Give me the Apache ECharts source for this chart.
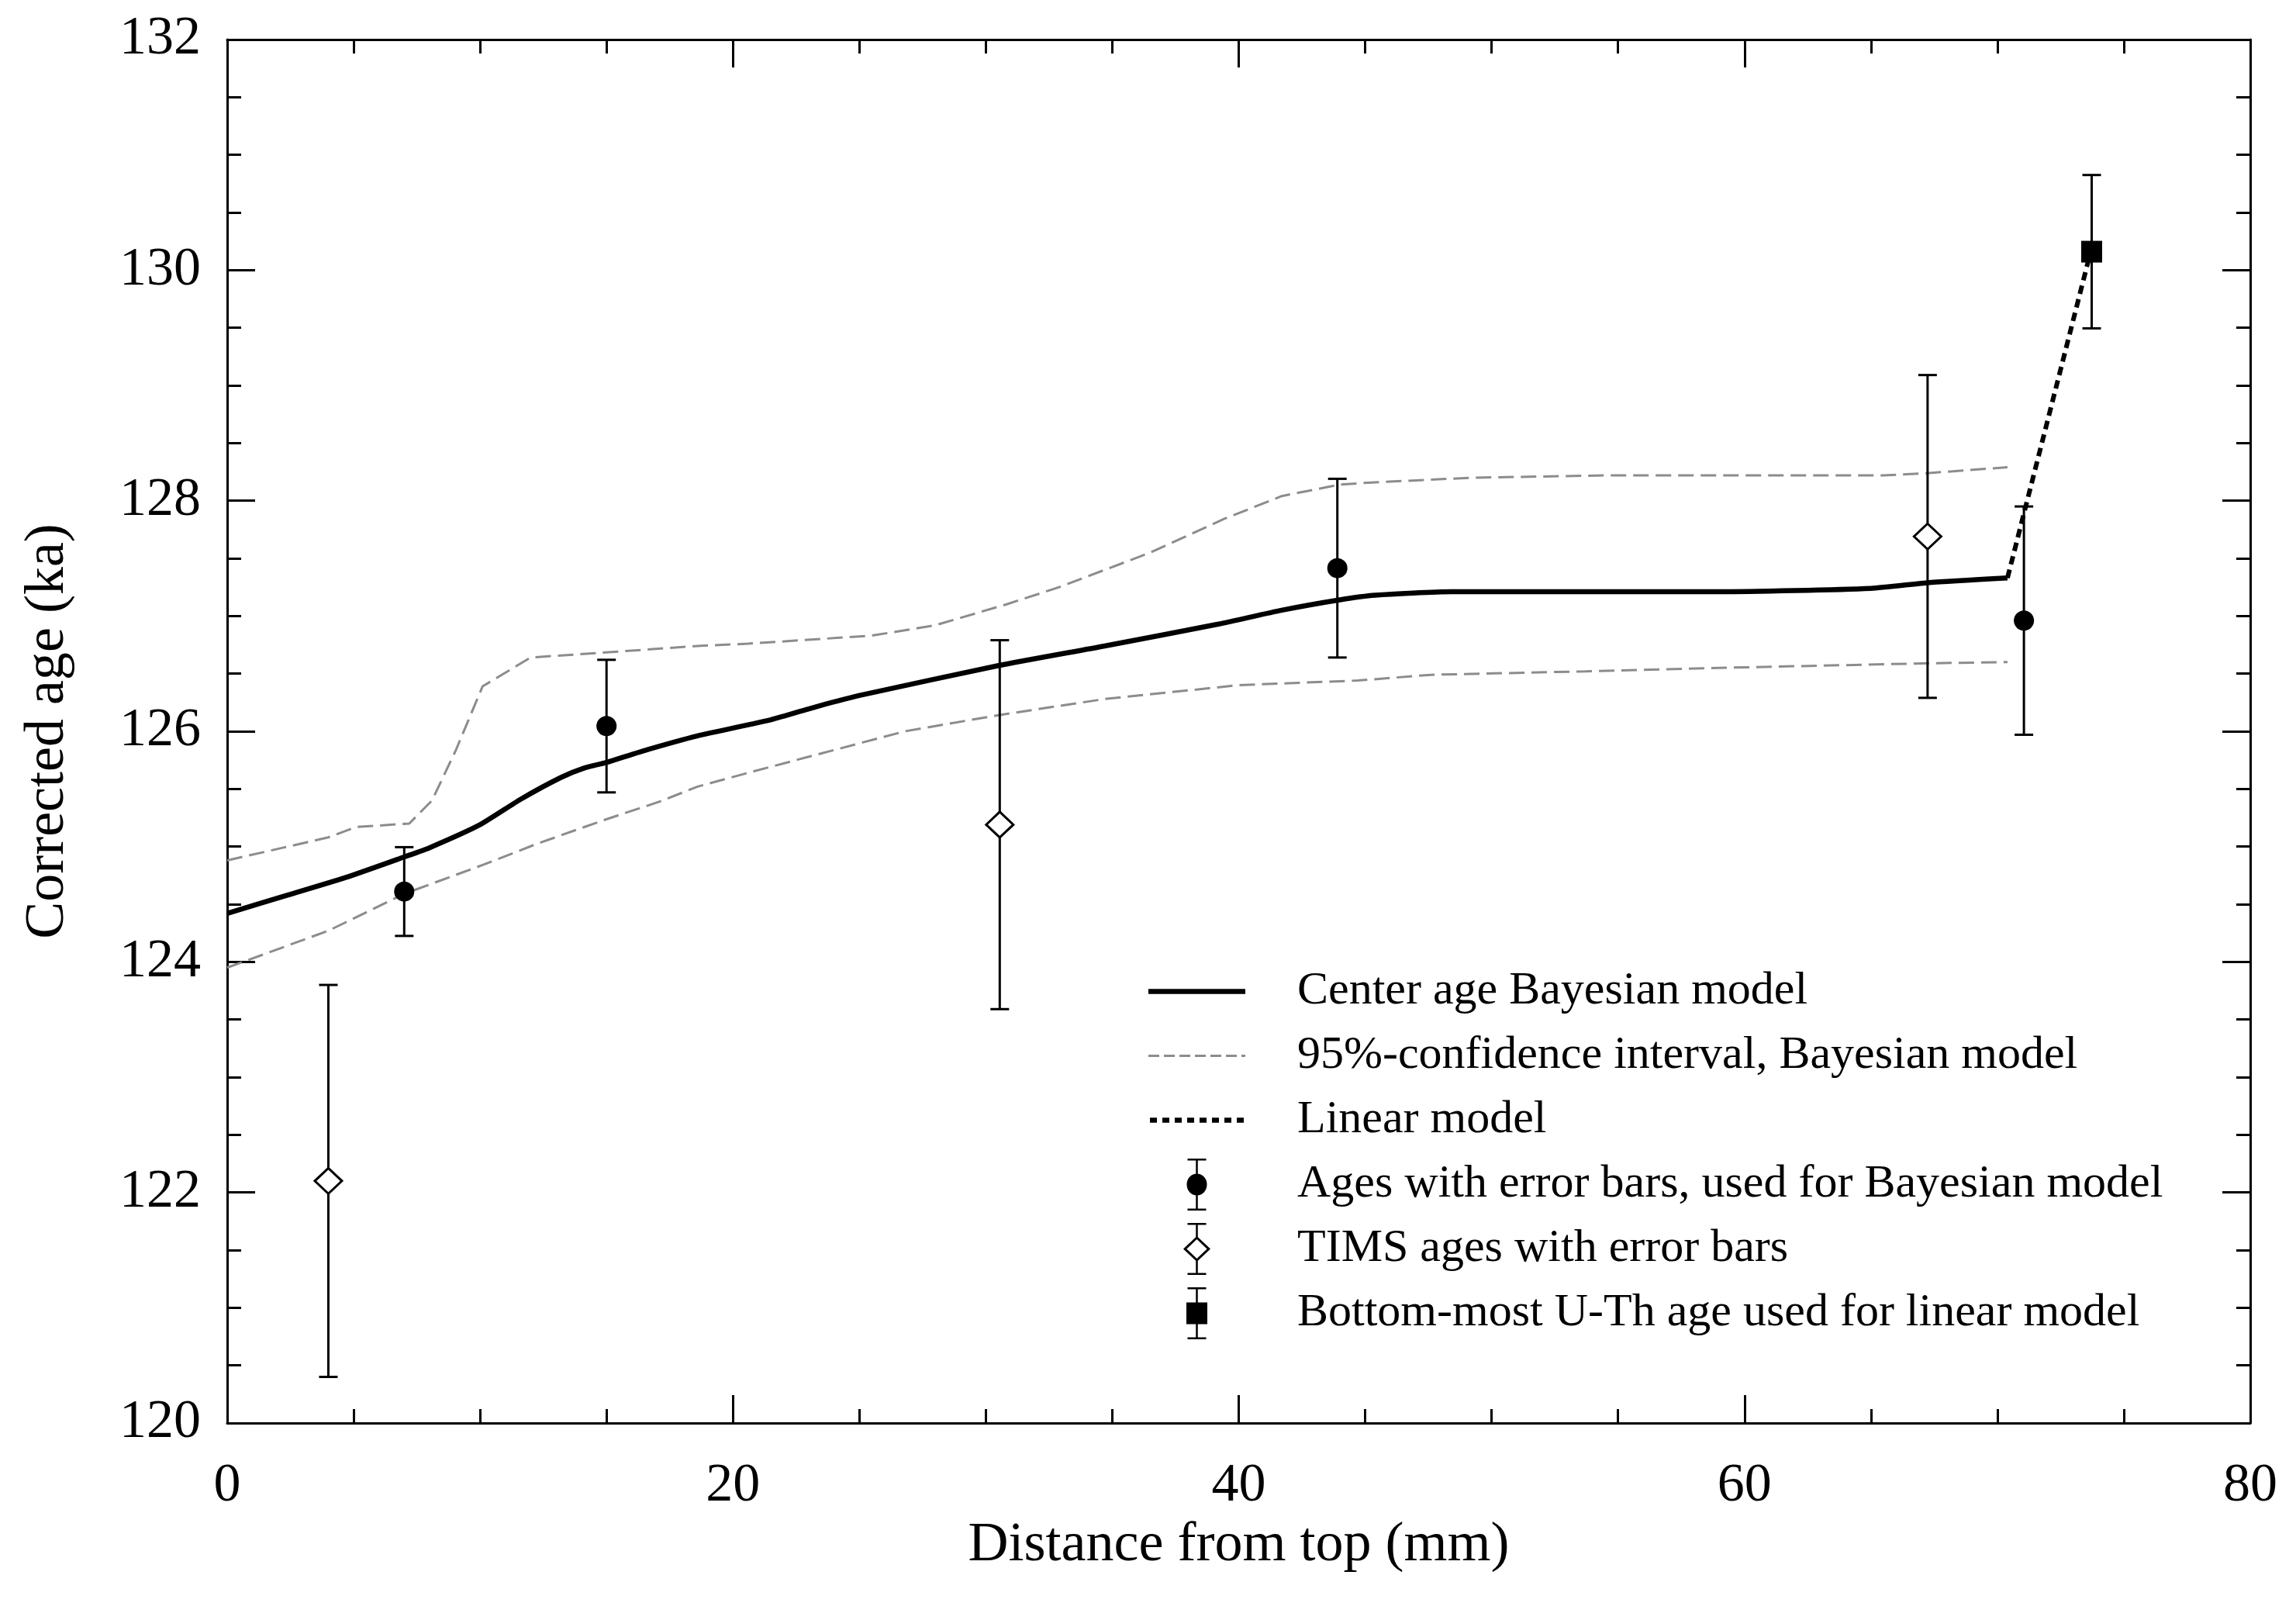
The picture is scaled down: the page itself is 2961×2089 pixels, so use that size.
<!DOCTYPE html>
<html><head><meta charset="utf-8">
<script src="https://cdn.jsdelivr.net/npm/echarts@6/dist/echarts.min.js"></script>
<style>html,body{margin:0;padding:0;background:#fff}#c{width:2961px;height:2089px}</style>
</head><body><div id="c"></div><script>
// ---- data ----
const centerX = [0, 2.4, 4.8, 7.0, 8.0, 10.0, 11.6, 13.2, 14.1, 15.0, 16.3, 18.6, 21.5, 23.4, 25.2, 30.5, 34.7, 39.2, 41.7, 44.0, 45.4, 48.4, 59.0, 65.0, 67.3, 70.4];
const centerY = [124.42, 124.58, 124.74, 124.91, 124.99, 125.19, 125.41, 125.60, 125.68, 125.73, 125.82, 125.96, 126.10, 126.22, 126.32, 126.57, 126.74, 126.93, 127.05, 127.14, 127.18, 127.21, 127.21, 127.24, 127.29, 127.33];
const upperX = [0, 2.2, 4.0, 5.1, 7.2, 8.1, 9.05, 10.1, 12.0, 14.7, 18.6, 20.6, 25.5, 28.0, 30.8, 32.9, 36.5, 39.4, 41.7, 44.0, 45.4, 49.3, 54.6, 65.5, 67.3, 70.4];
const upperY = [124.88, 124.99, 125.08, 125.17, 125.20, 125.40, 125.84, 126.39, 126.64, 126.68, 126.74, 126.76, 126.83, 126.92, 127.10, 127.25, 127.55, 127.84, 128.04, 128.14, 128.16, 128.20, 128.22, 128.22, 128.24, 128.29];
const lowerX = [0, 4.0, 7.0, 10.1, 12.2, 14.9, 17.1, 18.6, 20.6, 26.8, 30.5, 34.7, 40.0, 44.7, 47.6, 53.7, 59.0, 67.3, 70.4];
const lowerY = [123.95, 124.27, 124.59, 124.84, 125.02, 125.23, 125.39, 125.52, 125.64, 126.00, 126.14, 126.28, 126.40, 126.44, 126.49, 126.52, 126.55, 126.59, 126.60];
const linearX = [70.4, 73.7];
const linearY = [127.33, 130.17];
const bayesX = [7.0, 15.0, 43.9, 71.05];
const bayesY = [124.61, 126.045, 127.415, 126.96];
const bayesErr = [0.385, 0.575, 0.775, 0.99];
const timsX = [4.0, 30.55, 67.24];
const timsY = [122.10, 125.19, 127.69];
const timsErr = [1.70, 1.60, 1.40];
const bottomX = [73.73];
const bottomY = [130.16];
const bottomErr = [0.665];
const xTicks = {min: 0, max: 80, major: 20, minor: 5};
const yTicks = {min: 120, max: 132, major: 2, minor: 0.5};
const names = ['Center age Bayesian model', '95%-confidence interval, Bayesian model', 'Linear model',
  'Ages with error bars, used for Bayesian model', 'TIMS ages with error bars', 'Bottom-most U-Th age used for linear model'];

// ---- helpers ----
const zip = (xs, ys) => xs.map((x, i) => [x, ys[i]]);
const errData = (xs, ys, es) => xs.map((x, i) => [x, ys[i], ys[i] - es[i], ys[i] + es[i]]);
const FONT = "'Liberation Serif', 'Times New Roman', serif";

function errorBar(kind) {
  return function (params, api) {
    const x = api.value(0), y = api.value(1), lo = api.value(2), hi = api.value(3);
    const p = api.coord([x, y]), pHi = api.coord([x, hi]), pLo = api.coord([x, lo]);
    const cap = 12, ls = {stroke: '#000', lineWidth: 3};
    const ch = [
      {type: 'line', shape: {x1: p[0], y1: pHi[1], x2: p[0], y2: pLo[1]}, style: ls},
      {type: 'line', shape: {x1: p[0] - cap, y1: pHi[1], x2: p[0] + cap, y2: pHi[1]}, style: ls},
      {type: 'line', shape: {x1: p[0] - cap, y1: pLo[1], x2: p[0] + cap, y2: pLo[1]}, style: ls}
    ];
    if (kind === 'circle') {
      ch.push({type: 'circle', shape: {cx: p[0], cy: p[1], r: 13}, style: {fill: '#000'}});
    } else if (kind === 'diamond') {
      ch.push({type: 'polygon', shape: {points: [[p[0], p[1] - 16.5], [p[0] + 17.5, p[1]], [p[0], p[1] + 16.5], [p[0] - 17.5, p[1]]]},
        style: {fill: '#fff', stroke: '#000', lineWidth: 3}});
    } else {
      ch.push({type: 'rect', shape: {x: p[0] - 13.5, y: p[1] - 14, width: 27, height: 28}, style: {fill: '#000'}});
    }
    return {type: 'group', children: ch};
  };
}

// legend icons (shapes only); a zero-width sliver keeps every icon 67 px tall
const SPACER = 'M0 0H0.01V67H0Z ';
function dashPath(total, dash, gap, h) {
  let s = 'path://' + SPACER, x = 0;
  const y0 = 33.5 - h / 2, y1 = 33.5 + h / 2;
  while (x < total) { const e = Math.min(x + dash, total); s += `M${x} ${y0}H${e}V${y1}H${x}Z `; x += dash + gap; }
  return s;
}
const iconSolid = 'path://' + SPACER + 'M0 30.25H125V36.75H0Z';
const iconCI = dashPath(125, 14, 6, 3);
const iconLinear = dashPath(122, 9, 7, 6.5);
const iconCircle = 'path://M1 0H25V2.5H1Z M11.75 0H14.25V67H11.75Z M1 64.5H25V67H1Z M0 33.5A13 14 0 1 1 26 33.5A13 14 0 1 1 0 33.5Z';
const iconDiamond = 'path://M5.5 0H29.5V2.5H5.5Z M16.25 0H18.75V18H16.25Z M16.25 49H18.75V67H16.25Z M5.5 64.5H29.5V67H5.5Z ' +
  'M17.5 17L35 33.5L17.5 50L0 33.5Z M17.5 21.1L4.4 33.5L17.5 45.9L30.6 33.5Z';
const iconSquare = 'path://M1.5 0H25.5V2.5H1.5Z M12.25 0H14.75V67H12.25Z M1.5 64.5H25.5V67H1.5Z M0 19.5H27V47.5H0Z';

const gridRect = {left: 293, right: 59, top: 51, bottom: 254, containLabel: false};

function axis(kind, pos, grid, major) {
  const t = kind === 'x' ? xTicks : yTicks;
  return {
    type: 'value', gridIndex: grid, position: pos, min: t.min, max: t.max,
    interval: major ? t.major : t.minor,
    axisLine: major ? {show: true, onZero: false, lineStyle: {color: '#000', width: 3}} : {show: false, onZero: false},
    axisTick: {show: true, inside: true, length: major ? 36 : 18, lineStyle: {color: '#000', width: 3}},
    splitLine: {show: false}, minorTick: {show: false},
    axisLabel: {show: false}
  };
}

const xBottom = axis('x', 'bottom', 0, true);
xBottom.axisLabel = {show: true, fontFamily: FONT, fontSize: 70, color: '#000', margin: 47};
xBottom.name = 'Distance from top (mm)'; xBottom.nameLocation = 'middle'; xBottom.nameGap = 112;
xBottom.nameTextStyle = {fontFamily: FONT, fontSize: 72, color: '#000'};
const yLeft = axis('y', 'left', 0, true);
yLeft.axisLabel = {show: true, fontFamily: FONT, fontSize: 70, color: '#000', margin: 34};
yLeft.name = 'Corrected age (ka)'; yLeft.nameLocation = 'middle'; yLeft.nameGap = 195;
yLeft.nameTextStyle = {fontFamily: FONT, fontSize: 72, color: '#000'};

const chart = echarts.init(document.getElementById('c'));
chart.setOption({
  animation: false,
  backgroundColor: '#fff',
  grid: [gridRect, gridRect, gridRect, gridRect],
  xAxis: [xBottom, axis('x', 'top', 1, true), axis('x', 'bottom', 2, false), axis('x', 'top', 3, false)],
  yAxis: [yLeft, axis('y', 'right', 1, true), axis('y', 'left', 2, false), axis('y', 'right', 3, false)],
  legend: {
    orient: 'vertical', left: 1476, top: 1240, itemWidth: 125, itemHeight: 67, itemGap: 16,
    selectedMode: false, symbolKeepAspect: true,
    textStyle: {fontFamily: FONT, fontSize: 60, color: '#000', padding: [0, 0, 0, 62]},
    data: [
      {name: names[0], icon: iconSolid, itemStyle: {borderWidth: 0}},
      {name: names[1], icon: iconCI, itemStyle: {borderWidth: 0}},
      {name: names[2], icon: iconLinear, itemStyle: {borderWidth: 0}},
      {name: names[3], icon: iconCircle, itemStyle: {borderWidth: 0}},
      {name: names[4], icon: iconDiamond, itemStyle: {borderWidth: 0}},
      {name: names[5], icon: iconSquare, itemStyle: {borderWidth: 0}}
    ]
  },
  series: [
    {name: names[1], type: 'line', data: zip(upperX, upperY), showSymbol: false, symbol: 'none',
      lineStyle: {color: '#8c8c8c', width: 3, type: [20, 9]}, itemStyle: {color: '#8c8c8c'}, z: 2},
    {name: names[1], type: 'line', data: zip(lowerX, lowerY), showSymbol: false, symbol: 'none',
      lineStyle: {color: '#8c8c8c', width: 3, type: [20, 9]}, itemStyle: {color: '#8c8c8c'}, z: 2},
    {name: names[0], type: 'line', data: zip(centerX, centerY), showSymbol: false, symbol: 'none', smooth: 0.2,
      lineStyle: {color: '#000', width: 6.5}, itemStyle: {color: '#000'}, z: 3},
    {name: names[2], type: 'line', data: zip(linearX, linearY), showSymbol: false, symbol: 'none',
      lineStyle: {color: '#000', width: 6, type: [11, 7]}, itemStyle: {color: '#000'}, z: 3},
    {name: names[3], type: 'custom', renderItem: errorBar('circle'), data: errData(bayesX, bayesY, bayesErr),
      itemStyle: {color: '#000'}, z: 4},
    {name: names[4], type: 'custom', renderItem: errorBar('diamond'), data: errData(timsX, timsY, timsErr),
      itemStyle: {color: '#000'}, z: 4},
    {name: names[5], type: 'custom', renderItem: errorBar('square'), data: errData(bottomX, bottomY, bottomErr),
      itemStyle: {color: '#000'}, z: 4}
  ]
});
</script></body></html>
